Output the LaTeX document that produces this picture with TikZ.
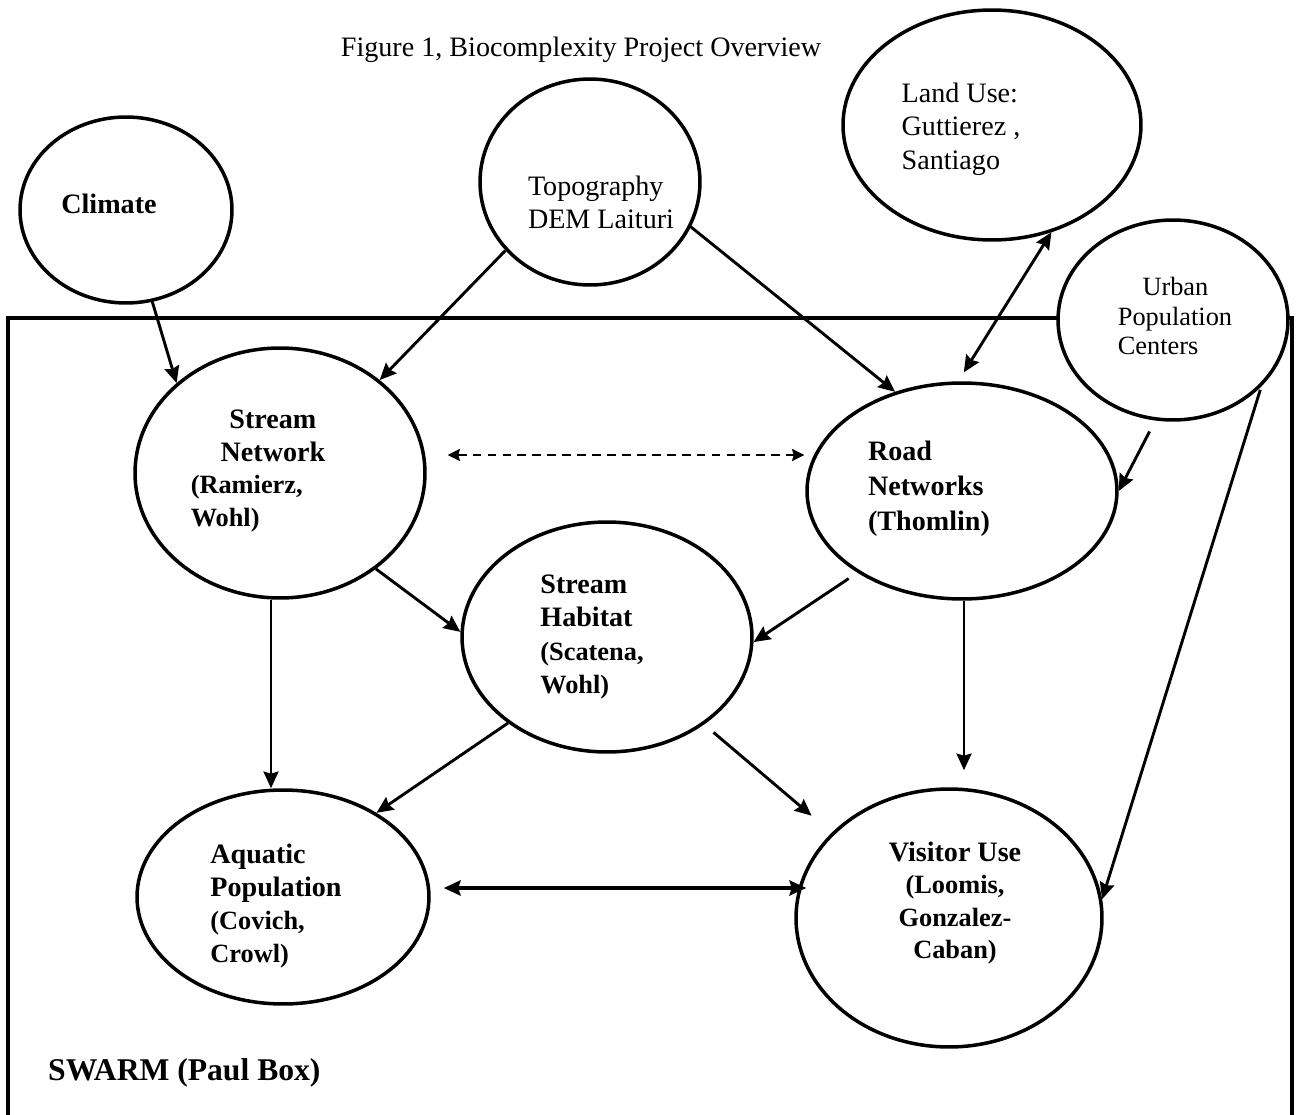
\documentclass[tikz,border=0pt]{standalone}
\usepackage{fontspec}
\setmainfont{Liberation Serif}
\usetikzlibrary{arrows.meta,shapes.geometric}
\newcommand{\sixteen}{\fontsize{16}{18.7}\selectfont}
\newcommand{\fifteen}{\fontsize{15}{18.7}\selectfont}
\tikzset{%
    >={Stealth[length=9.5pt,width=8.5pt,inset=1.2pt]},
    topic/.style={ellipse,draw,line width=2pt,fill=white,inner sep=0pt},
    every node/.style={font=\sixteen},
    every label/.style={font=\bfseries\sixteen,align=left,inner sep=0pt},
    conn/.style={->,line width=1.65pt},
    dashconn/.style={<->,line width=1.1pt,dash pattern=on 5pt off 3.5pt,>={Stealth[length=7pt,width=7pt,inset=1pt]}},
    swarmbox/.style={line width=2.3pt}
}

\begin{document}
\begin{tikzpicture}[x=0.02cm,y=-0.02cm]
            \useasboundingbox (0,0) rectangle (1296,1115);
            \draw[swarmbox] (8,1125) -- (8,318) -- (1292,318) -- (1292,1125);
            \node [anchor=base] (title) at (581,57) {Figure 1, Biocomplexity Project Overview};
            \node [anchor=base west,font=\bfseries\fontsize{18}{20}\selectfont] (swarm) at (42,1080) {SWARM (Paul Box)};
            %%%%% outside the box
            \node [topic,minimum width=4.24cm,minimum height=3.72cm,
                label={[shift={(-17,-6)}]center:Climate}] (clim) at (126,210) {};
            \node [topic,minimum width=4.4cm,minimum height=4.12cm,
                label={[shift={(11,20)},font=\sixteen]center:{Topography\\DEM Laituri}}] (topo) at (590,182) {};
            \node [topic,minimum width=5.96cm,minimum height=4.6cm,
                label={[shift={(-31,4)},font=\fontsize{16}{19}\selectfont]center:{Land Use:\\Guttierez ,\\Santiago}}] (land) at (992,125) {};
            \node [topic,minimum width=4.6cm,minimum height=4cm,
                label={[shift={(2,-4)},font=\fontsize{15}{17}\selectfont]center:{\hspace*{14pt}Urban\\Population\\Centers}}] (urban) at (1173,320) {};
            %%%%% inside the box
            \node [topic,minimum width=5.8cm,minimum height=5cm,
                label={[shift={(-22,-2)}]center:{\hspace*{22pt}Stream\\\hspace*{17pt}Network\\{\fifteen (Ramierz,}\\{\fifteen Wohl)}}}] (stream) at (280,473) {};
            \node [topic,minimum width=6.2cm,minimum height=4.32cm,
                label={[shift={(-33,-2)},font=\bfseries\fontsize{16}{19.8}\selectfont]center:{Road\\Networks\\(Thomlin)}}] (road) at (962,491) {};
            \node [topic,minimum width=5.8cm,minimum height=4.6cm,
                label={[shift={(-15,0)},font=\bfseries\fontsize{16}{18.9}\selectfont]center:{Stream\\Habitat\\{\fifteen (Scatena,}\\{\fifteen Wohl)}}}] (habitat) at (607,637) {};
            \node [topic,minimum width=5.84cm,minimum height=4.28cm,
                label={[shift={(-7,9)}]center:{Aquatic\\Population\\{\fifteen (Covich,}\\{\fifteen Crowl)}}}] (aquatic) at (283,897) {};
            \node [topic,minimum width=6.12cm,minimum height=5.16cm,
                label={[shift={(6,-15)},align=center,font=\bfseries\fontsize{16}{18.4}\selectfont]center:{Visitor Use\\{\fifteen (Loomis,}\\{\fifteen Gonzalez-}\\{\fifteen Caban)}}}] (visitor) at (949,918) {};
            %%%%% connectors
            \draw[conn] (clim.-74) -- (stream.139);
            \draw[conn] (topo.219) -- (stream.43);
            \draw[conn] (topo.-24) -- (road.124);
            \draw[conn,<->,shorten >=6pt] (land.-61) -- (road.92);
            \draw[conn,shorten <=7pt] (urban.-100) -- (road.0);
            \draw[conn,shorten <=2pt] (urban.-37) -- (visitor.7);
            \draw[dashconn] ([shift={(21,-18)}]stream.east) -- ([shift={(-1,-36)}]road.west);
            \draw[conn] (stream.-45) -- (habitat.178);
            \draw[conn,shorten <=6pt] (road.218) -- (habitat.-2);
            \draw[conn] ([shift={(2,0)}]road.south) -- ([shift={(15,-17)}]visitor.north);
            \draw[conn] ([shift={(-9,0)}]stream.south) -- ([shift={(-12,0)}]aquatic.north);
            \draw[conn] (habitat.221) -- (aquatic.42);
            \draw[conn,shorten <=7pt,shorten >=15pt] (habitat.-42) -- (visitor.144);
            \draw[conn,<->,line width=2.4pt] ([shift={(13,-9)}]aquatic.east) -- ([shift={(12,-30)}]visitor.west);
\end{tikzpicture}
\end{document}
